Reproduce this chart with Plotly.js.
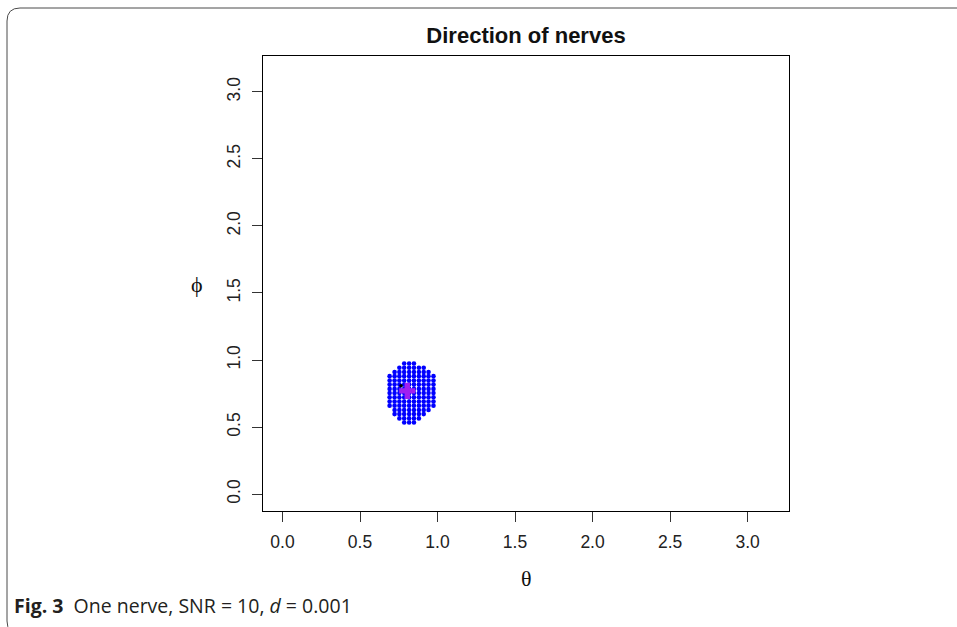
<!DOCTYPE html>
<html>
<head>
<meta charset="utf-8">
<script src="https://cdn.plot.ly/plotly-3.0.1.min.js"></script>
<style>html,body{margin:0;padding:0;background:#fff;}#chart{width:957px;height:627px;}</style>
</head>
<body>
<div id="chart"></div>
<script>
// ---- data ----
const tickVals = [0, 0.5, 1.0, 1.5, 2.0, 2.5, 3.0];
const tickLabels = ["0.0", "0.5", "1.0", "1.5", "2.0", "2.5", "3.0"];

// estimated directions: one row of theta values per phi value
const rowPhi = [0.974, 0.942, 0.911, 0.880, 0.848, 0.817, 0.785, 0.754, 0.723, 0.691, 0.660, 0.628, 0.597, 0.565, 0.534];
const rowTheta = [
  [0.785, 0.817, 0.848],
  [0.754, 0.785, 0.817, 0.848, 0.880, 0.911],
  [0.723, 0.754, 0.785, 0.817, 0.848, 0.880, 0.911, 0.942],
  [0.691, 0.723, 0.754, 0.785, 0.817, 0.848, 0.880, 0.911, 0.942, 0.974],
  [0.691, 0.723, 0.754, 0.785, 0.817, 0.848, 0.880, 0.911, 0.942, 0.974],
  [0.691, 0.723, 0.754, 0.785, 0.817, 0.848, 0.880, 0.911, 0.942, 0.974],
  [0.691, 0.723, 0.754, 0.785, 0.817, 0.848, 0.880, 0.911, 0.942, 0.974],
  [0.691, 0.723, 0.754, 0.785, 0.817, 0.848, 0.880, 0.911, 0.942, 0.974],
  [0.691, 0.723, 0.754, 0.785, 0.817, 0.848, 0.880, 0.911, 0.942, 0.974],
  [0.691, 0.723, 0.754, 0.785, 0.817, 0.848, 0.880, 0.911, 0.942, 0.974],
  [0.691, 0.723, 0.754, 0.785, 0.817, 0.848, 0.880, 0.911, 0.942, 0.974],
  [0.723, 0.754, 0.785, 0.817, 0.848, 0.880, 0.911, 0.942],
  [0.723, 0.754, 0.785, 0.817, 0.848, 0.880, 0.911],
  [0.754, 0.785, 0.817, 0.848, 0.880],
  [0.785, 0.817, 0.848]
];
const trueTheta = [0.765];
const truePhi = [0.808];
const meanTheta = [0.805];
const meanPhi = [0.770];

// ---- build traces ----
const dotX = [], dotY = [];
rowTheta.forEach((row, i) => row.forEach(t => { dotX.push(t); dotY.push(rowPhi[i]); }));

const W = 957, H = 627;
const M = {l: 263, r: 168, t: 56, b: 116};
const PW = W - M.l - M.r, PH = H - M.t - M.b;
const px = x => (x - M.l) / PW;
const py = y => (H - M.b - y) / PH;

// rounded frame path (paper coords)
function framePath(x0, y0, x1, y1, r) {
  const X = v => px(v).toFixed(5), Y = v => py(v).toFixed(5);
  return `M ${X(x1)},${Y(y0)} L ${X(x0 + r)},${Y(y0)} Q ${X(x0)},${Y(y0)} ${X(x0)},${Y(y0 + r)} ` +
         `L ${X(x0)},${Y(y1 - r)} Q ${X(x0)},${Y(y1)} ${X(x0 + r)},${Y(y1)} L ${X(x1)},${Y(y1)}`;
}

const traces = [
  {x: dotX, y: dotY, type: 'scatter', mode: 'markers',
   marker: {color: '#0000FF', size: 4.6, line: {width: 0}}, hoverinfo: 'skip', showlegend: false},
  {x: trueTheta, y: truePhi, type: 'scatter', mode: 'markers',
   marker: {color: '#000000', size: 3.5, line: {width: 0}}, hoverinfo: 'skip', showlegend: false},
  {x: meanTheta, y: meanPhi, type: 'scatter', mode: 'markers',
   marker: {color: '#A020F0', size: 13.5, symbol: 'cross', line: {width: 0}}, hoverinfo: 'skip', showlegend: false}
];

const tickFont = {family: 'Liberation Sans, Arial, sans-serif', size: 17.5, color: '#222'};
const axisCommon = {
  tickmode: 'array', tickvals: tickVals, ticktext: tickLabels,
  ticks: 'outside', ticklen: 10, tickwidth: 1, tickcolor: '#333',
  showline: true, mirror: true, linecolor: '#000', linewidth: 1,
  showgrid: false, zeroline: false, tickfont: tickFont, fixedrange: true
};

const layout = {
  width: W, height: H,
  margin: M,
  paper_bgcolor: '#fff', plot_bgcolor: '#fff',
  title: {text: '<b>Direction of nerves</b>', font: {family: 'Liberation Sans, Arial, sans-serif', size: 22, color: '#111'},
          xref: 'paper', x: 0.5, xanchor: 'center', yref: 'container', y: 1 - 35 / H, yanchor: 'middle'},
  xaxis: Object.assign({}, axisCommon, {range: [-0.1257, 3.2673], ticklabelstandoff: 5}),
  yaxis: Object.assign({}, axisCommon, {range: [-0.1257, 3.2673], tickangle: -90, ticklabelstandoff: 5}),
  annotations: [
    {text: 'θ', xref: 'paper', yref: 'paper', x: 0.5, y: py(578), xanchor: 'center', yanchor: 'middle',
     showarrow: false, font: {family: 'Liberation Serif, Times New Roman, serif', size: 22, color: '#111'}},
    {text: 'ϕ', xref: 'paper', yref: 'paper', x: px(197), y: py(284), xanchor: 'center', yanchor: 'middle',
     showarrow: false, font: {family: 'Liberation Serif, DejaVu Serif, serif', size: 22, color: '#111'}},
    {text: '<b>Fig. 3</b>  One nerve, SNR = 10, <i>d</i> = 0.001', xref: 'paper', yref: 'paper',
     x: px(12), y: py(605), xanchor: 'left', yanchor: 'middle', showarrow: false,
     font: {family: 'Open Sans, Noto Sans, sans-serif', size: 19.5, color: '#231f20'}}
  ],
  shapes: [
    {type: 'path', xref: 'paper', yref: 'paper', path: framePath(7, 8, 975, 634, 13),
     line: {color: '#4a4a4a', width: 1}, fillcolor: 'rgba(0,0,0,0)', layer: 'below'}
  ]
};

Plotly.newPlot('chart', traces, layout, {staticPlot: true, displayModeBar: false});
</script>
</body>
</html>
